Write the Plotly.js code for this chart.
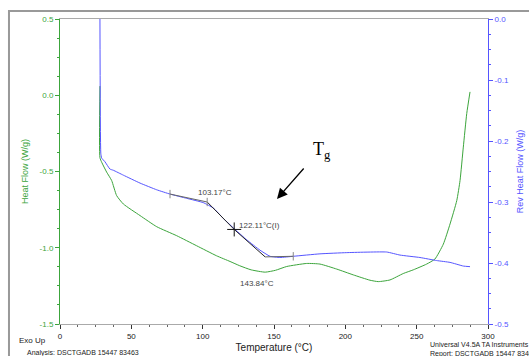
<!DOCTYPE html>
<html>
<head>
<meta charset="utf-8">
<script src="https://cdn.plot.ly/plotly-3.0.1.min.js"></script>
<style>html,body{margin:0;padding:0;background:#fff;}#chart{width:529px;height:356px;}</style>
</head>
<body>
<div id="chart"></div>
<script>
// Heat Flow (left axis, W/g)
const hfTemp = [28, 28, 29.2, 32.7, 36.2, 39.7, 44.4, 56.1, 67.8, 81.8, 95.8, 109.8, 119.2, 126.0, 134.0, 143.84, 151.0, 158.9, 172.9, 182.2, 194.0, 205.6, 217.3, 223.1, 231.3, 240.6, 247.6, 257.0, 262.8, 268.7, 273.4, 278.1, 280.4, 282.7, 285.1, 287.4];
const hfValue = [0.06, -0.41, -0.439, -0.504, -0.559, -0.658, -0.713, -0.789, -0.862, -0.921, -0.987, -1.053, -1.090, -1.118, -1.145, -1.160, -1.148, -1.123, -1.103, -1.107, -1.140, -1.178, -1.213, -1.222, -1.211, -1.169, -1.145, -1.107, -1.074, -0.976, -0.844, -0.691, -0.559, -0.340, -0.120, 0.022];
// Rev Heat Flow (right axis, W/g)
const rhfTemp = [28, 28.6, 29.2, 31.5, 35.0, 37.4, 44.4, 56.1, 67.8, 77.1, 88.8, 100.4, 107.5, 114.5, 122.7, 130.9, 140.2, 147.2, 154.2, 163.5, 182.2, 201.0, 229.0, 238.3, 252.3, 264.0, 273.4, 282.7, 287.4];
const rhfValue = [0.0, -0.22, -0.228, -0.234, -0.246, -0.248, -0.256, -0.269, -0.280, -0.287, -0.294, -0.301, -0.310, -0.327, -0.345, -0.362, -0.379, -0.389, -0.391, -0.389, -0.385, -0.383, -0.382, -0.387, -0.391, -0.396, -0.399, -0.405, -0.406];
// Glass transition analysis construction (right axis)
const onsetLineTemp = [77.1, 103.17];
const onsetLineValue = [-0.287, -0.300];
const stepLineTemp = [103.17, 122.11, 143.8];
const stepLineValue = [-0.300, -0.345, -0.390];
const endLineTemp = [143.8, 163.5];
const endLineValue = [-0.390, -0.389];
const limitTemp = [77.1, 103.17, 163.5];
const limitValue = [-0.287, -0.300, -0.389];
const inflectTemp = [122.11];
const inflectValue = [-0.345];
// Tick labels
const xTicks = [0, 50, 100, 150, 200, 250, 300];
const yTicks = [0.5, 0.0, -0.5, -1.0, -1.5];
const yTickText = ['0.5', '0.0', '-0.5', '-1.0', '-1.5'];
const y2Ticks = [0.0, -0.1, -0.2, -0.3, -0.4, -0.5];
const y2TickText = ['0.0', '-0.1', '-0.2', '-0.3', '-0.4', '-0.5'];

const green = 'rgb(60,165,60)';
const blue = 'rgb(85,85,255)';
const font = 'Liberation Sans, Arial, sans-serif';

const traces = [
  {x: hfTemp, y: hfValue, type: 'scatter', mode: 'lines', line: {color: green, width: 1, shape: 'spline', smoothing: 0.5}, yaxis: 'y', hoverinfo: 'skip'},
  {x: rhfTemp, y: rhfValue, type: 'scatter', mode: 'lines', line: {color: blue, width: 1, shape: 'spline', smoothing: 0.4}, yaxis: 'y2', hoverinfo: 'skip'},
  {x: onsetLineTemp, y: onsetLineValue, type: 'scatter', mode: 'lines', line: {color: '#666', width: 1}, yaxis: 'y2'},
  {x: stepLineTemp, y: stepLineValue, type: 'scatter', mode: 'lines', line: {color: '#222', width: 1}, yaxis: 'y2'},
  {x: endLineTemp, y: endLineValue, type: 'scatter', mode: 'lines', line: {color: '#666', width: 1}, yaxis: 'y2'},
  {x: limitTemp, y: limitValue, type: 'scatter', mode: 'markers', marker: {symbol: 'line-ns-open', size: 6, color: '#888', line: {width: 1, color: '#888'}}, yaxis: 'y2'},
  {x: inflectTemp, y: inflectValue, type: 'scatter', mode: 'markers', marker: {symbol: 'cross-thin-open', size: 10, color: '#111', line: {width: 1, color: '#111'}}, yaxis: 'y2'}
];

const layout = {
  width: 529, height: 356,
  margin: {l: 60, r: 41, t: 19, b: 32},
  paper_bgcolor: '#fff', plot_bgcolor: '#fff',
  showlegend: false,
  font: {family: font, size: 8, color: '#222'},
  xaxis: {
    range: [0, 300], tickvals: xTicks, ticktext: xTicks.map(String),
    showgrid: false, zeroline: false, showline: true, mirror: true, linecolor: '#aaa', linewidth: 1,
    ticks: 'outside', ticklen: 4, tickcolor: '#333',
    minor: {dtick: 12.5, ticks: 'outside', ticklen: 2, tickcolor: '#666'},
    tickfont: {size: 8, color: '#222'},
    title: {text: 'Temperature (°C)', font: {size: 10, color: '#222'}, standoff: 4}
  },
  yaxis: {
    range: [-1.5, 0.5], tickvals: yTicks, ticktext: yTickText,
    showgrid: false, zeroline: false, showline: true, linecolor: green, linewidth: 1,
    ticks: 'outside', ticklen: 4, tickcolor: green,
    minor: {dtick: 0.125, ticks: 'outside', ticklen: 2, tickcolor: green},
    tickfont: {size: 8, color: green},
    title: {text: 'Heat Flow (W/g)', font: {size: 9, color: green}, standoff: 9}
  },
  yaxis2: {
    range: [-0.5, 0.0], tickvals: y2Ticks, ticktext: y2TickText,
    overlaying: 'y', side: 'right',
    showgrid: false, zeroline: false, showline: true, linecolor: blue, linewidth: 1,
    ticks: 'outside', ticklen: 4, tickcolor: blue,
    minor: {dtick: 0.025, ticks: 'outside', ticklen: 2, tickcolor: blue},
    tickfont: {size: 8, color: blue},
    title: {text: 'Rev Heat Flow (W/g)', font: {size: 9, color: blue}, standoff: 8}
  },
  shapes: [
    {type: 'rect', xref: 'paper', yref: 'paper', x0: -0.1192, x1: 1.2, y0: -0.3, y1: 1.0262, line: {color: '#999', width: 2}}
  ],
  annotations: [
    {x: 108.6, y: -0.285, xref: 'x', yref: 'y2', text: '103.17°C', showarrow: false, font: {size: 8, color: '#444'}},
    {x: 139.5, y: -0.338, xref: 'x', yref: 'y2', text: '122.11°C(I)', showarrow: false, font: {size: 8, color: '#444'}},
    {x: 138.1, y: -0.433, xref: 'x', yref: 'y2', text: '143.84°C', showarrow: false, font: {size: 8, color: '#444'}},
    {x: 183.6, y: -0.215, xref: 'x', yref: 'y2', text: 'T<sub>g</sub>', showarrow: false, font: {family: 'Liberation Serif, Times New Roman, serif', size: 18, color: '#000'}},
    {x: 152.1, y: -0.295, xref: 'x', yref: 'y2', text: '', showarrow: true, ax: 28, ay: -32, arrowhead: 2, arrowsize: 1.6, arrowwidth: 1.3, arrowcolor: '#000'},
    {x: -0.1, y: -0.055, xref: 'paper', yref: 'paper', xanchor: 'left', yanchor: 'middle', text: 'Exo Up', showarrow: false, font: {size: 8, color: '#222'}},
    {x: -0.082, y: -0.094, xref: 'paper', yref: 'paper', xanchor: 'left', yanchor: 'middle', text: 'Analysis: DSCTGADB 15447 83463', showarrow: false, font: {size: 7, color: '#222'}},
    {x: 0.86, y: -0.068, xref: 'paper', yref: 'paper', xanchor: 'left', yanchor: 'middle', text: 'Universal V4.5A TA Instruments', showarrow: false, font: {size: 7, color: '#222'}},
    {x: 0.86, y: -0.098, xref: 'paper', yref: 'paper', xanchor: 'left', yanchor: 'middle', text: 'Report: DSCTGADB 15447 83463', showarrow: false, font: {size: 7, color: '#222'}}
  ]
};

Plotly.newPlot('chart', traces, layout, {displayModeBar: false, staticPlot: true});
</script>
</body>
</html>
